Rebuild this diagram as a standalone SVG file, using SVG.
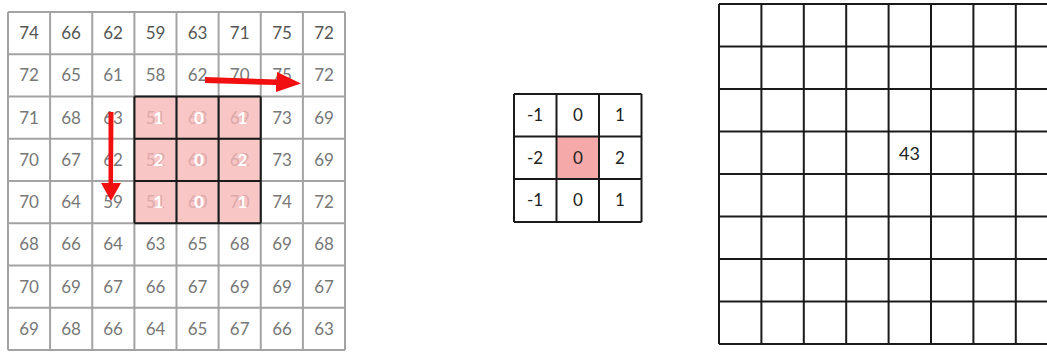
<svg xmlns="http://www.w3.org/2000/svg" width="1047" height="352" viewBox="0 0 1047 352">
<style>
.g{stroke:#a3a3a3;stroke-width:2;fill:none}
.k{stroke:#1a1a1a;stroke-width:2;fill:none}
.t{font-family:Lato,"Liberation Sans",sans-serif;font-size:17px;text-anchor:middle;fill:#777}
.t0{fill:#555}
.f{fill:#dba9a9}
.w{fill:#ffffff;font-weight:bold}
.kt{font-family:Lato,"Liberation Sans",sans-serif;font-size:17px;text-anchor:middle;fill:#222}
.pink{fill:#f9c6c6}
.arr{fill:#f20f0f;stroke:none}
</style>
<rect width="1047" height="352" fill="#ffffff"/>
<g id="input-grid">
<rect x="134.4" y="96.5" width="126.4" height="126.8" class="pink"/>
<path class="g" d="M8,12H345M8,54.25H345M8,96.5H345M8,138.75H345M8,181H345M8,223.25H345M8,265.5H345M8,307.75H345M8,350H345M8,12V350M50.1,12V350M92.25,12V350M134.4,12V350M176.5,12V350M218.6,12V350M260.75,12V350M302.9,12V350M345,12V350"/>
<path class="k" d="M134.4,96.5H260.75M134.4,138.75H260.75M134.4,181H260.75M134.4,223.25H260.75M134.4,96.5V223.25M176.5,96.5V223.25M218.6,96.5V223.25M260.75,96.5V223.25"/>
<g class="t">
<text class="t0" x="29" y="39">74</text><text class="t0" x="71" y="39">66</text><text class="t0" x="113" y="39">62</text><text class="t0" x="155.5" y="39">59</text><text class="t0" x="197.5" y="39">63</text><text class="t0" x="239.7" y="39">71</text><text class="t0" x="282" y="39">75</text><text class="t0" x="324" y="39">72</text>
<text x="29" y="81">72</text><text x="71" y="81">65</text><text x="113" y="81">61</text><text x="155.5" y="81">58</text><text x="197.5" y="81">62</text><text x="239.7" y="81">70</text><text x="282" y="81">75</text><text x="324" y="81">72</text>
<text x="29" y="123.5">71</text><text x="71" y="123.5">68</text><text x="113" y="123.5">63</text><text class="f" x="155.5" y="123.5">51</text><text class="f" x="197.5" y="123.5">63</text><text class="f" x="239.7" y="123.5">69</text><text x="282" y="123.5">73</text><text x="324" y="123.5">69</text>
<text x="29" y="165.8">70</text><text x="71" y="165.8">67</text><text x="113" y="165.8">62</text><text class="f" x="155.5" y="165.8">52</text><text class="f" x="197.5" y="165.8">60</text><text class="f" x="239.7" y="165.8">62</text><text x="282" y="165.8">73</text><text x="324" y="165.8">69</text>
<text x="29" y="208">70</text><text x="71" y="208">64</text><text x="113" y="208">59</text><text class="f" x="155.5" y="208">51</text><text class="f" x="197.5" y="208">60</text><text class="f" x="239.7" y="208">70</text><text x="282" y="208">74</text><text x="324" y="208">72</text>
<text x="29" y="250.3">68</text><text x="71" y="250.3">66</text><text x="113" y="250.3">64</text><text x="155.5" y="250.3">63</text><text x="197.5" y="250.3">65</text><text x="239.7" y="250.3">68</text><text x="282" y="250.3">69</text><text x="324" y="250.3">68</text>
<text x="29" y="292.5">70</text><text x="71" y="292.5">69</text><text x="113" y="292.5">67</text><text x="155.5" y="292.5">66</text><text x="197.5" y="292.5">67</text><text x="239.7" y="292.5">69</text><text x="282" y="292.5">69</text><text x="324" y="292.5">67</text>
<text x="29" y="334.8">69</text><text x="71" y="334.8">68</text><text x="113" y="334.8">66</text><text x="155.5" y="334.8">64</text><text x="197.5" y="334.8">65</text><text x="239.7" y="334.8">67</text><text x="282" y="334.8">66</text><text x="324" y="334.8">63</text>
</g>
<g class="t w">
<text class="w" x="158.5" y="123.5">1</text><text class="w" x="199" y="123.5">0</text><text class="w" x="242.5" y="123.5">1</text>
<text class="w" x="158.5" y="165.8">2</text><text class="w" x="199" y="165.8">0</text><text class="w" x="242.5" y="165.8">2</text>
<text class="w" x="158.5" y="208">1</text><text class="w" x="199" y="208">0</text><text class="w" x="242.5" y="208">1</text>
</g>
</g>
<g id="connectors">
<polygon class="arr" points="205,77 277,79.5 277,72 301,83.5 276,92 276,85 205,83"/>
<polygon class="arr" points="108.5,112 113.5,112 113,183 121,183 111,201 101,183 108.5,183"/>
</g>
<g id="kernel">
<rect x="556.5" y="136.5" width="42.5" height="42.5" fill="#f6a9a9"/>
<path class="k" d="M514,94H641.5M514,136.5H641.5M514,179H641.5M514,222H641.5M514,94V222M556.5,94V222M599,94V222M641.5,94V222"/>
<g class="kt">
<text x="535" y="121">-1</text><text x="578" y="121">0</text><text x="620" y="121">1</text>
<text x="535" y="163.5">-2</text><text x="578" y="163.5">0</text><text x="620" y="163.5">2</text>
<text x="535" y="206">-1</text><text x="578" y="206">0</text><text x="620" y="206">1</text>
</g>
</g>
<g id="output-grid">
<path class="k" d="M719,4H1047M719,46.5H1047M719,89H1047M719,131.5H1047M719,174H1047M719,216.5H1047M719,259H1047M719,301.5H1047M719,344H1047M719,4V344M761.4,4V344M803.8,4V344M846.2,4V344M888.6,4V344M931,4V344M973.4,4V344M1015.8,4V344"/>
<text class="kt" x="909.5" y="160" style="font-size:18px">43</text>
</g>
</svg>
